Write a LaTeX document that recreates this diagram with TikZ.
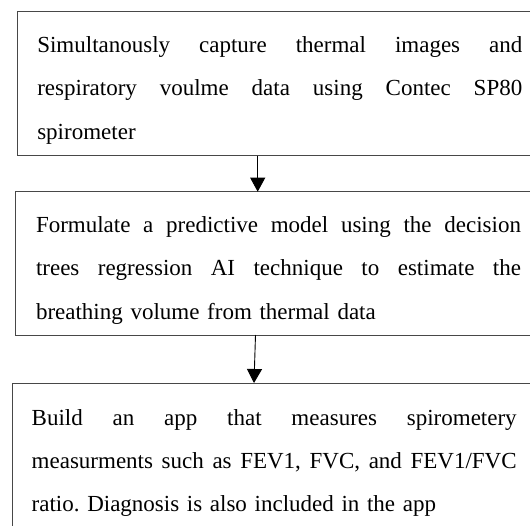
\documentclass[tikz,border=0pt]{standalone}
\usepackage{fontspec}
\setmainfont{Liberation Serif}
\usetikzlibrary{arrows.meta}
\frenchspacing
\newcommand\jline[1]{\makebox[485pt][s]{\spaceskip=\fontdimen2\font plus 1fil\relax #1}}
\tikzset{
  boxframe/.style={draw=black!72, line width=0.9pt, rectangle, inner sep=0pt, outer sep=0pt, anchor=north west},
  boxtext/.style={inner sep=0pt, outer sep=0pt, text width=485pt, align=left, anchor=base west,
    font=\fontsize{23}{43.2}\selectfont\frenchspacing, text=black},
  arr/.style={draw=black, line width=0.9pt, -{Triangle[width=15pt,length=14pt]}}
}
\begin{document}
\begin{tikzpicture}[x=1pt,y=-1pt]
\clip (0,0) rectangle (530,525);
\fill[white] (0,0) rectangle (530,525);
% boxes
\node[boxframe, minimum width=525pt, minimum height=143.8pt] (b1) at (17.3,11.7) {};
\node[boxframe, minimum width=527pt, minimum height=143.3pt] (b2) at (15.7,191.7) {};
\node[boxframe, minimum width=530pt, minimum height=170pt] (b3) at (12.7,383) {};
% texts
\node[boxtext] (t1) at (37.3,52.7) {\jline{Simultanously capture thermal images and}\\
\jline{respiratory voulme data using Contec SP80}\\
spirometer};
\node[boxtext] (t2) at (36,232.7) {\jline{Formulate a predictive model using the decision}\\
\jline{trees regression AI technique to estimate the}\\
breathing volume from thermal data};
\node[boxtext] (t3) at (31.7,425) {\jline{Build an app that measures spirometery}\\
\jline{measurments such as FEV1, FVC, and FEV1/FVC}\\
ratio. Diagnosis is also included in the app};
% arrows
\draw[arr] (b1.south -| 257.7,0) -- (b2.north -| 257.7,0);
\draw[arr] (b2.south -| 255.5,0) -- (b3.north -| 254,0);
\end{tikzpicture}
\end{document}
